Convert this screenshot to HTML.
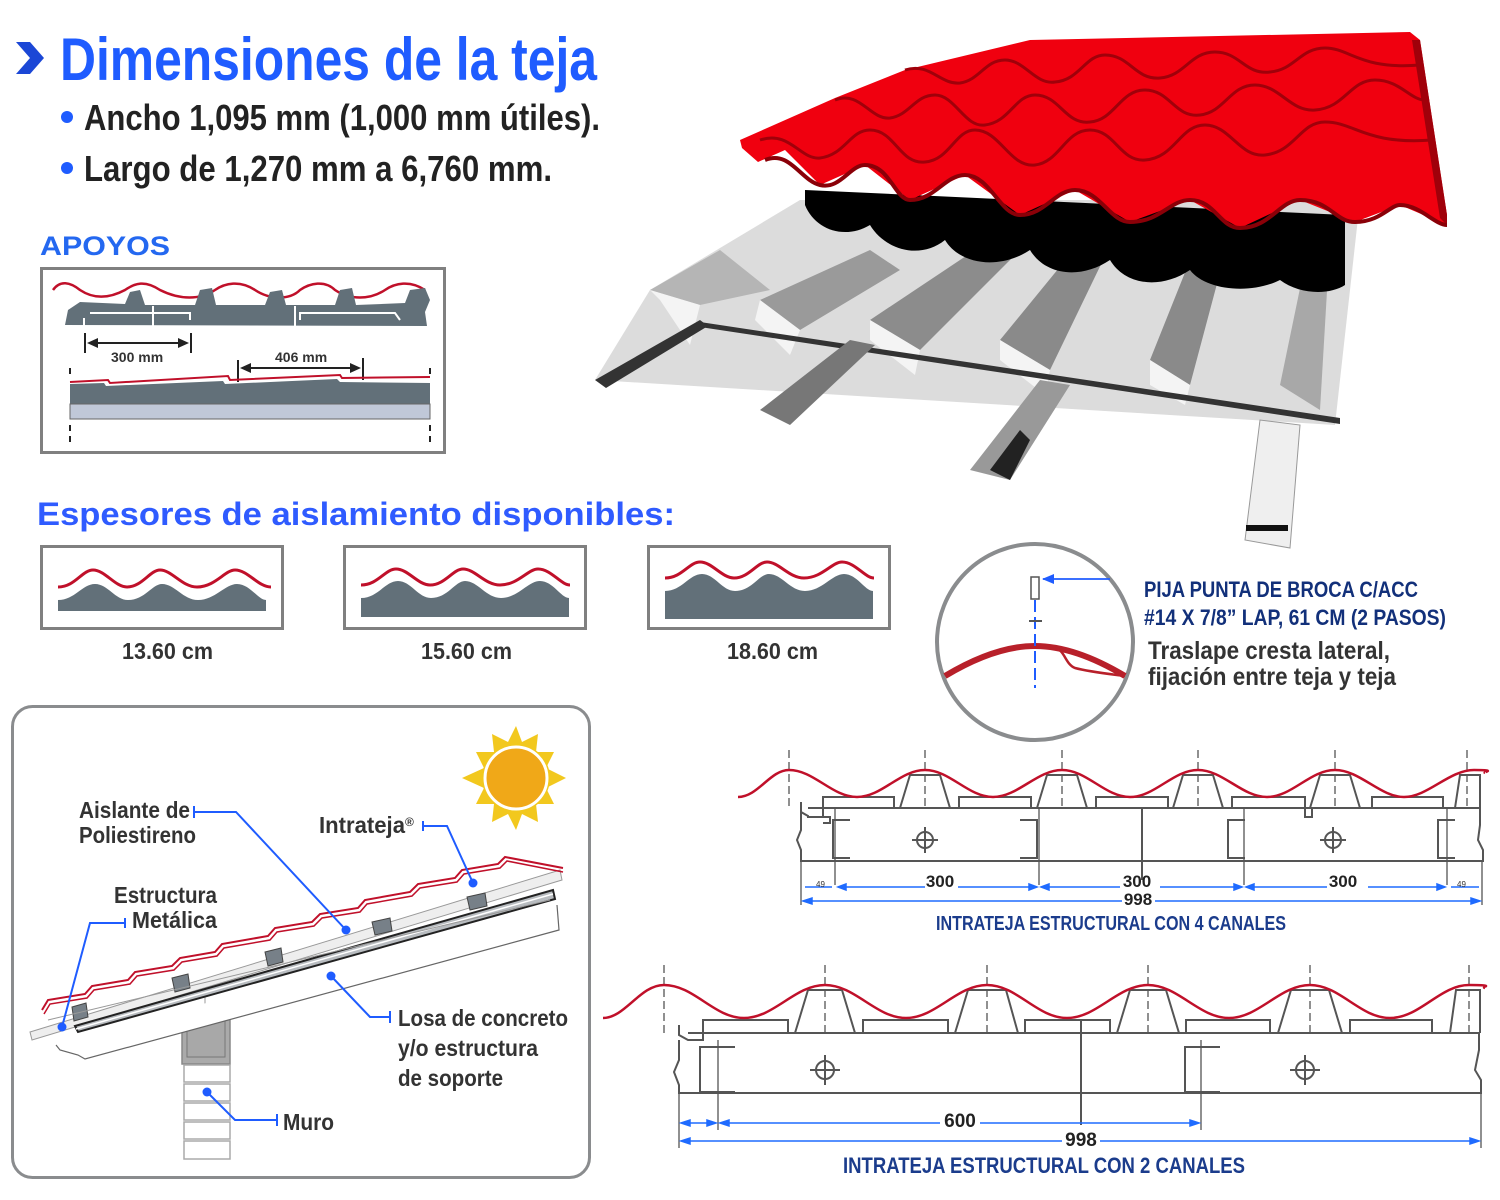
<!DOCTYPE html>
<html><head><meta charset="utf-8"><style>
html,body{margin:0;padding:0;background:#fff;}
svg{display:block;}
.t{font-family:"Liberation Sans Narrow","Liberation Sans",sans-serif;font-weight:bold;}
</style></head><body>
<svg width="1500" height="1200" viewBox="0 0 1500 1200" xmlns="http://www.w3.org/2000/svg">
<!-- Title -->
<polygon points="16,42 30,42 44,58 30,74 16,74 30,58" fill="#1b47d6"/>
<text x="60" y="80" class="t" font-size="60" fill="#1f5cff" textLength="537" lengthAdjust="spacingAndGlyphs">Dimensiones de la teja</text>
<circle cx="67" cy="117" r="6" fill="#1f5cff"/>
<circle cx="67" cy="168" r="6" fill="#1f5cff"/>
<text x="84" y="130" class="t" font-size="36" fill="#222" textLength="516" lengthAdjust="spacingAndGlyphs">Ancho 1,095 mm (1,000 mm útiles).</text>
<text x="84" y="181" class="t" font-size="36" fill="#222" textLength="468" lengthAdjust="spacingAndGlyphs">Largo de 1,270 mm a 6,760 mm.</text>

<!-- APOYOS -->
<text x="40" y="255" font-family="Liberation Sans,sans-serif" font-weight="bold" font-size="27" fill="#2468f0" textLength="130" lengthAdjust="spacingAndGlyphs">APOYOS</text>
<rect x="41.5" y="268.5" width="403" height="184" fill="#fff" stroke="#808080" stroke-width="3"/>
<path d="M53,290 C60,280 70,282 80,290 C95,300 110,298 125,290 C135,283 145,280 160,290 C180,300 200,300 215,290 C225,283 240,280 255,290 C270,300 290,300 300,290 C310,283 325,280 335,290 C350,300 370,300 385,290 C395,283 410,280 425,290" fill="none" stroke="#c0102a" stroke-width="2.5"/>
<path d="M65,325 L68,310 L80,302 L125,304 L130,292 L140,290 L145,305 L195,305 L200,290 L212,288 L216,305 L265,305 L270,292 L282,290 L286,305 L335,305 L340,290 L352,288 L356,305 L405,303 L410,290 L425,288 L430,300 L425,312 L427,326 Z" fill="#627079"/>
<path d="M84,318 L84,326 M90,313 L190,313 L190,320 M300,320 L300,313 L395,313 L400,320" stroke="#fff" stroke-width="2" fill="none"/>
<rect x="152" y="306" width="2" height="20" fill="#fff"/>
<rect x="294" y="306" width="2" height="20" fill="#fff"/>
<line x1="85" y1="333" x2="85" y2="353" stroke="#222" stroke-width="2"/>
<line x1="191" y1="333" x2="191" y2="353" stroke="#222" stroke-width="2"/>
<line x1="90" y1="343" x2="186" y2="343" stroke="#222" stroke-width="2"/>
<polygon points="87,343 98,338 98,348" fill="#222"/><polygon points="189,343 178,338 178,348" fill="#222"/>
<text x="111" y="362" font-family="Liberation Sans,sans-serif" font-weight="bold" font-size="14" fill="#333">300 mm</text>
<line x1="238" y1="360" x2="238" y2="382" stroke="#222" stroke-width="2"/>
<line x1="363" y1="358" x2="363" y2="380" stroke="#222" stroke-width="2"/>
<line x1="243" y1="368" x2="358" y2="368" stroke="#222" stroke-width="2"/>
<polygon points="240,368 251,363 251,373" fill="#222"/><polygon points="361,368 350,363 350,373" fill="#222"/>
<text x="275" y="362" font-family="Liberation Sans,sans-serif" font-weight="bold" font-size="14" fill="#333">406 mm</text>
<path d="M70,382 L108,380 L110,383 L228,376 L230,380 L340,375 L342,378 L430,377" fill="none" stroke="#c0102a" stroke-width="2"/>
<path d="M70,384 L104,383 L106,386 L223,381 L225,384 L337,379 L340,382 L430,383 L430,404 L70,404 Z" fill="#627079"/>
<rect x="70" y="404" width="360" height="15" fill="#c0c8d8" stroke="#666" stroke-width="1"/>
<path d="M70,368 V378 M70,425 V445 M430,368 V378 M430,425 V445" stroke="#222" stroke-width="2" stroke-dasharray="6,5"/>

<!-- Espesores -->
<text x="37" y="525" font-family="Liberation Sans,sans-serif" font-weight="bold" font-size="32" fill="#2f5bff" textLength="638" lengthAdjust="spacingAndGlyphs">Espesores de aislamiento disponibles:</text>
<g>
<rect x="41.5" y="546.5" width="241" height="82" fill="#fff" stroke="#808080" stroke-width="3"/>
<path d="M58,587 C75,587 82,570 93,570 C105,570 115,587 127,587 C142,587 150,570 160,570 C172,570 182,587 197,587 C215,587 225,570 235,570 C248,570 258,587 271,587" fill="none" stroke="#c0102a" stroke-width="3"/>
<path d="M58,600 C75,600 82,584 95,584 C108,584 115,600 128,600 C145,600 152,584 162,584 C175,584 183,600 198,600 C215,600 225,584 237,584 C250,584 258,600 266,600 L266,611 L58,611 Z" fill="#627079"/>
<text x="122" y="659" class="t" font-size="23" fill="#333" textLength="91" lengthAdjust="spacingAndGlyphs">13.60 cm</text>
</g>
<g>
<rect x="344.5" y="546.5" width="241" height="82" fill="#fff" stroke="#808080" stroke-width="3"/>
<path d="M361,585 C378,585 385,569 396,569 C408,569 418,585 430,585 C445,585 453,569 463,569 C475,569 485,585 500,585 C518,585 528,569 538,569 C551,569 561,585 570,585" fill="none" stroke="#c0102a" stroke-width="3"/>
<path d="M361,598 C378,598 385,581 398,581 C411,581 418,598 431,598 C448,598 455,581 465,581 C478,581 486,598 501,598 C518,598 528,581 540,581 C553,581 561,598 569,598 L569,617 L361,617 Z" fill="#627079"/>
<text x="421" y="659" class="t" font-size="23" fill="#333" textLength="91" lengthAdjust="spacingAndGlyphs">15.60 cm</text>
</g>
<g>
<rect x="648.5" y="546.5" width="241" height="82" fill="#fff" stroke="#808080" stroke-width="3"/>
<path d="M665,578 C682,578 689,562 700,562 C712,562 722,578 734,578 C749,578 757,562 767,562 C779,562 789,578 804,578 C822,578 832,562 842,562 C855,562 865,578 874,578" fill="none" stroke="#c0102a" stroke-width="3"/>
<path d="M665,591 C682,591 689,574 702,574 C715,574 722,591 735,591 C752,591 759,574 769,574 C782,574 790,591 805,591 C822,591 832,574 844,574 C857,574 865,591 873,591 L873,619 L665,619 Z" fill="#627079"/>
<text x="727" y="659" class="t" font-size="23" fill="#333" textLength="91" lengthAdjust="spacingAndGlyphs">18.60 cm</text>
</g>

<!-- Circle detail -->
<circle cx="1035" cy="642" r="98" fill="#fff" stroke="#8a8c8e" stroke-width="4"/>
<path d="M945,676 C980,655 1010,646 1035,646 C1060,646 1090,655 1125,676" fill="none" stroke="#b8202a" stroke-width="6"/>
<path d="M1055,648 C1065,650 1065,664 1075,668 C1090,672 1110,674 1125,676" fill="none" stroke="#b8202a" stroke-width="2.5"/>
<line x1="1035" y1="600" x2="1035" y2="688" stroke="#1f5cff" stroke-width="2" stroke-dasharray="12,5"/>
<rect x="1031" y="577" width="8" height="22" fill="#fff" stroke="#555" stroke-width="1.5"/>
<line x1="1029" y1="621" x2="1042" y2="621" stroke="#555" stroke-width="2"/>
<line x1="1043" y1="579" x2="1110" y2="579" stroke="#1f5cff" stroke-width="1.8"/>
<polygon points="1042,579 1054,574 1054,584" fill="#1f5cff"/>
<text x="1144" y="597" class="t" font-size="22" fill="#12307a" textLength="274" lengthAdjust="spacingAndGlyphs">PIJA PUNTA DE BROCA C/ACC</text>
<text x="1144" y="625" class="t" font-size="22" fill="#12307a" textLength="302" lengthAdjust="spacingAndGlyphs">#14 X 7/8” LAP, 61 CM (2 PASOS)</text>
<text x="1148" y="659" class="t" font-size="25" fill="#333" textLength="242" lengthAdjust="spacingAndGlyphs">Traslape cresta lateral,</text>
<text x="1148" y="685" class="t" font-size="25" fill="#333" textLength="248" lengthAdjust="spacingAndGlyphs">fijación entre teja y teja</text>

<!-- 3D roof -->
<g>
<polygon points="800,200 650,290 595,380 1335,425 1360,200" fill="#dcdcdc"/>
<polygon points="650,290 720,250 770,290 700,305" fill="#b5b5b5"/>
<polygon points="760,300 870,250 900,270 800,330" fill="#9a9a9a"/>
<polygon points="870,320 990,240 1020,250 920,350" fill="#8c8c8c"/>
<polygon points="1000,340 1090,230 1120,225 1050,370" fill="#8a8a8a"/>
<polygon points="1150,360 1200,235 1230,235 1190,385" fill="#8a8a8a"/>
<polygon points="1280,385 1310,240 1330,240 1320,410" fill="#a8a8a8"/>
<polygon points="650,290 700,305 690,345 660,300" fill="#f4f4f4"/>
<polygon points="760,300 800,330 790,355 755,320" fill="#f4f4f4"/>
<polygon points="870,320 920,350 915,375 870,340" fill="#f4f4f4"/>
<polygon points="1000,340 1050,370 1045,395 1000,360" fill="#f4f4f4"/>
<polygon points="1150,360 1190,385 1185,405 1150,385" fill="#f4f4f4"/>
<polygon points="700,322 1340,418 1340,424 700,327" fill="#333"/>
<polygon points="595,380 700,320 708,326 606,388" fill="#333"/>
<polygon points="760,410 850,340 875,345 790,425" fill="#777"/>
<polygon points="970,470 1040,380 1070,385 1010,480" fill="#999"/>
<polygon points="990,470 1010,480 1030,440 1020,430" fill="#222"/>
<polygon points="1245,540 1260,420 1300,425 1290,548" fill="#efefef" stroke="#999" stroke-width="1"/>
<rect x="1246" y="525" width="42" height="6" fill="#111"/>
<path d="M805,205 C815,230 845,240 870,225 C885,250 920,260 945,240 C960,265 1000,270 1030,250 C1045,275 1080,280 1110,260 C1125,285 1160,290 1190,270 C1205,290 1250,295 1280,280 C1300,295 1330,295 1345,285 L1345,215 L805,190 Z" fill="#000"/>
<polygon points="740,140 835,98 905,70 1030,40 1410,32 1420,40 1447,215 1447,225 1400,205 1355,222 1300,200 1240,228 1190,200 1130,222 1075,190 1020,215 965,175 910,200 865,165 820,185 785,150 758,162 742,148" fill="#f0000f"/>
<path d="M1420,40 L1447,215 L1447,225 L1440,218 L1412,40 Z" fill="#a0000a"/>
<path d="M765,160 C790,150 800,180 820,185 C840,190 850,165 865,165 C890,165 895,200 910,200 C935,200 945,175 965,175 C990,175 1000,215 1020,215 C1045,215 1055,190 1075,190 C1100,190 1110,222 1130,222 C1160,222 1170,200 1190,200 C1215,200 1220,228 1240,228 C1270,228 1280,200 1300,200 C1330,200 1335,222 1355,222 C1380,222 1390,205 1400,205 C1420,205 1435,225 1447,225" fill="none" stroke="#8a0008" stroke-width="4"/>
<path d="M835,100 C860,90 870,120 890,118 C910,115 915,95 935,95 C955,95 965,128 985,125 C1010,122 1015,95 1035,95 C1060,95 1065,125 1090,122 C1115,120 1120,90 1145,90 C1170,90 1175,118 1200,115 C1225,112 1230,85 1255,85 C1280,85 1290,112 1315,110 C1345,108 1350,80 1375,80 C1400,80 1410,100 1425,100" fill="none" stroke="#a0000a" stroke-width="3"/>
<path d="M905,70 C930,62 940,85 960,83 C980,80 985,60 1005,60 C1025,60 1035,85 1055,82 C1080,80 1085,55 1105,55 C1130,55 1135,80 1160,78 C1185,76 1190,52 1215,52 C1240,52 1245,75 1270,72 C1295,70 1300,48 1325,48 C1350,48 1360,70 1420,65" fill="none" stroke="#a0000a" stroke-width="3"/>
<path d="M760,140 C790,130 800,160 820,158 C845,155 850,130 870,130 C895,130 900,165 925,162 C950,160 955,130 975,130 C1000,130 1010,168 1035,165 C1060,162 1065,130 1090,130 C1115,130 1120,162 1145,160 C1175,158 1180,125 1205,125 C1230,125 1240,158 1265,155 C1295,152 1300,122 1325,122 C1355,122 1365,145 1432,140" fill="none" stroke="#a0000a" stroke-width="3"/>
</g>

<!-- 4 canales -->
<g fill="none" stroke="#555" stroke-width="2">
<path d="M789,750 V808 M925,750 V808 M1062,750 V808 M1198,750 V808 M1335,750 V808 M1467,750 V808" stroke-dasharray="8,4" stroke-width="1.3"/>
<path d="M801,802 V812 L808,816 L808,817 L823,817 L823,797 L894,797 L894,808 L900,808 L910,775 L940,775 L950,808 L959,808 L959,797 L1031,797 L1031,808 L1037,808 L1047,775 L1077,775 L1087,808 L1096,808 L1096,797 L1168,797 L1168,808 L1173,808 L1183,775 L1213,775 L1223,808 L1232,808 L1232,797 L1305,797 L1305,808 L1310,808 L1320,775 L1350,775 L1360,808 L1372,808 L1372,797 L1443,797 L1443,808 L1455,808 L1460,775 L1480,775 L1480,808"/>
<path d="M808,808 H1480"/>
<path d="M801,812 V830 L797,840 L801,850 V861 H1483 V850 L1478,840 L1480,825 V808"/>
<path d="M823,817 H830 V823 H823 M1305,808 V817 H1312 V808"/>
<path d="M850,820 H833 V858 H850 M1020,820 H1037 V858 H1020 M1245,820 H1228 V858 H1245 M1455,820 H1438 V858 H1455"/>
<circle cx="925" cy="840" r="8"/><path d="M912,840 H938 M925,827 V853"/>
<circle cx="1333" cy="840" r="8"/><path d="M1320,840 H1346 M1333,827 V853"/>
<path d="M1142,808 V880"/>
<path d="M801,861 V905 M835,808 V885 M1039,808 V885 M1244,808 V885 M1447,808 V885 M1482,861 V905" stroke-width="1.3"/>
</g>
<path d="M738,797 C758,797 770,770 789,770 C814,770 832,797 857,797 S900,770 925,770 S968,797 993,797 S1037,770 1062,770 S1105,797 1130,797 S1173,770 1198,770 S1242,797 1267,797 S1310,770 1335,770 S1380,797 1404,797 S1449,770 1474,770 S1482,772 1485,773" fill="none" stroke="#c0102a" stroke-width="2.5"/>
<g stroke="#1f6bff" stroke-width="1.5" fill="#1f6bff">
<line x1="805" y1="887" x2="832" y2="887"/>
<line x1="840" y1="887" x2="925" y2="887"/><line x1="958" y1="887" x2="1035" y2="887"/>
<line x1="1043" y1="887" x2="1120" y2="887"/><line x1="1160" y1="887" x2="1240" y2="887"/>
<line x1="1248" y1="887" x2="1327" y2="887"/><line x1="1368" y1="887" x2="1443" y2="887"/>
<line x1="1451" y1="887" x2="1479" y2="887"/>
<line x1="805" y1="901" x2="1122" y2="901"/><line x1="1155" y1="901" x2="1479" y2="901"/>
<polygon points="838,887 846,884 846,890"/><polygon points="1037,887 1029,884 1029,890" /><polygon points="1041,887 1049,884 1049,890"/><polygon points="1242,887 1234,884 1234,890"/><polygon points="1246,887 1254,884 1254,890"/><polygon points="1445,887 1437,884 1437,890"/>
<polygon points="803,901 812,898 812,904"/><polygon points="1480,901 1471,898 1471,904"/>
</g>
<text x="816" y="887" font-family="Liberation Sans,sans-serif" font-size="8" fill="#333">49</text>
<text x="1457" y="887" font-family="Liberation Sans,sans-serif" font-size="8" fill="#333">49</text>
<text x="940" y="887" text-anchor="middle" class="t" font-size="17" fill="#222">300</text>
<text x="1137" y="887" text-anchor="middle" class="t" font-size="17" fill="#222">300</text>
<text x="1343" y="887" text-anchor="middle" class="t" font-size="17" fill="#222">300</text>
<text x="1138" y="905" text-anchor="middle" class="t" font-size="17" fill="#222">998</text>
<text x="1111" y="930" text-anchor="middle" class="t" font-size="20" fill="#1b3c8c" textLength="350" lengthAdjust="spacingAndGlyphs">INTRATEJA ESTRUCTURAL CON 4 CANALES</text>

<!-- 2 canales -->
<g fill="none" stroke="#555" stroke-width="2">
<path d="M664,965 V1035 M825,965 V1035 M987,965 V1035 M1148,965 V1035 M1310,965 V1035 M1469,965 V1035" stroke-dasharray="8,4" stroke-width="1.3"/>
<path d="M679,1025 V1035 L688,1040 L703,1040 L703,1020 L788,1020 L788,1033 L795,1033 L808,990 L842,990 L855,1033 L863,1033 L863,1020 L948,1020 L948,1033 L955,1033 L968,990 L1006,990 L1018,1033 L1025,1033 L1025,1020 L1110,1020 L1110,1033 L1117,1033 L1130,990 L1166,990 L1179,1033 L1186,1033 L1186,1020 L1270,1020 L1270,1033 L1278,1033 L1291,990 L1329,990 L1342,1033 L1350,1033 L1350,1020 L1432,1020 L1432,1033 L1450,1033 L1456,990 L1480,990 L1480,1033"/>
<path d="M688,1033 H1480"/>
<path d="M679,1040 V1060 L674,1072 L679,1085 V1093 H1481 V1080 L1475,1070 L1479,1050 V1033"/>
<path d="M735,1047 H700 V1092 H735 M1220,1047 H1185 V1092 H1220"/>
<circle cx="825" cy="1070" r="9"/><path d="M810,1070 H840 M825,1055 V1085"/>
<circle cx="1305" cy="1070" r="9"/><path d="M1290,1070 H1320 M1305,1055 V1085"/>
<path d="M1081,1020 V1125"/>
<path d="M679,1093 V1148 M718,1040 V1130 M1201,1040 V1130 M1481,1093 V1148" stroke-width="1.3"/>
</g>
<path d="M603,1018 C625,1018 640,985 664,985 C694,985 714,1018 744,1018 S795,985 825,985 S876,1018 906,1018 S957,985 987,985 S1037,1018 1067,1018 S1118,985 1148,985 S1199,1018 1229,1018 S1280,985 1310,985 S1360,1018 1390,1018 S1440,985 1469,985 S1480,987 1485,988" fill="none" stroke="#c0102a" stroke-width="2.5"/>
<g stroke="#1f6bff" stroke-width="1.5" fill="#1f6bff">
<line x1="683" y1="1123" x2="714" y2="1123"/>
<line x1="722" y1="1123" x2="940" y2="1123"/><line x1="980" y1="1123" x2="1197" y2="1123"/>
<line x1="683" y1="1141" x2="1062" y2="1141"/><line x1="1100" y1="1141" x2="1478" y2="1141"/>
<polygon points="681,1123 690,1120 690,1126"/><polygon points="716,1123 707,1120 707,1126"/>
<polygon points="720,1123 729,1120 729,1126"/><polygon points="1199,1123 1190,1120 1190,1126"/>
<polygon points="681,1141 690,1138 690,1144"/><polygon points="1479,1141 1470,1138 1470,1144"/>
</g>
<text x="960" y="1127" text-anchor="middle" class="t" font-size="19" fill="#222">600</text>
<text x="1081" y="1146" text-anchor="middle" class="t" font-size="19" fill="#222">998</text>
<text x="1044" y="1173" text-anchor="middle" class="t" font-size="22" fill="#1b3c8c" textLength="402" lengthAdjust="spacingAndGlyphs">INTRATEJA ESTRUCTURAL CON 2 CANALES</text>

<!-- Bottom left box -->
<rect x="12.5" y="706.5" width="577" height="471" rx="20" fill="#fff" stroke="#8a8c8e" stroke-width="3"/>
<g>
<path d="M516,726 L522,742 L538,734 L536,752 L554,752 L546,768 L566,778 L546,788 L554,804 L536,804 L538,822 L522,814 L516,830 L508,814 L492,822 L494,804 L476,804 L484,788 L462,778 L484,768 L476,752 L494,752 L492,734 L508,742 Z" fill="#f2c81e"/>
<circle cx="516" cy="778" r="34" fill="#f2c81e"/>
<circle cx="516" cy="778" r="31" fill="#f0a818" stroke="#fff" stroke-width="3"/>
</g>
<!-- wall -->
<line x1="205" y1="995" x2="205" y2="1015" stroke="#999" stroke-width="1"/>
<rect x="182" y="1016" width="48" height="48" fill="#aaa" stroke="#888" stroke-width="1.5"/>
<rect x="187" y="1021" width="38" height="36" fill="#a8a8a8" stroke="#777" stroke-width="1"/>
<g fill="#fff" stroke="#aaa" stroke-width="1.5">
<rect x="184" y="1065" width="46" height="17"/><rect x="184" y="1084" width="46" height="17"/><rect x="184" y="1103" width="46" height="17"/><rect x="184" y="1122" width="46" height="17"/><rect x="184" y="1141" width="46" height="18"/>
</g>
<!-- slab -->
<path d="M30,1032 L560,870 L562,880 L32,1040 Z" fill="#eee" stroke="#999" stroke-width="1"/>
<path d="M56,1045 L60,1050 L78,1055 L85,1059 L559,930 L557,905" fill="#fff" stroke="#666" stroke-width="1.2"/>
<path d="M75,1026 L553,890 L555,899 L78,1032 Z" fill="#b8bcc0" stroke="#222" stroke-width="2"/>
<path d="M76,1029 L553,894" stroke="#fff" stroke-width="1.5"/>
<g fill="#778088" stroke="#444" stroke-width="1">
<polygon points="72,1007 86,1003 88,1017 74,1021"/><polygon points="172,978 188,974 190,988 175,992"/><polygon points="265,952 281,948 283,962 268,966"/><polygon points="372,922 390,918 392,931 375,935"/><polygon points="467,897 485,893 487,906 470,910"/>
</g>
<path d="M42,1010 L48,1000 L85,994 L92,986 L128,980 L135,972 L172,966 L180,958 L215,952 L222,944 L268,936 L275,928 L312,922 L320,914 L358,908 L365,900 L410,892 L418,884 L455,878 L462,870 L498,864 L505,857 L563,868" fill="none" stroke="#c0102a" stroke-width="2"/>
<path d="M44,1014 L50,1004 L87,998 L94,990 L130,984 L137,976 L174,970 L182,962 L217,956 L224,948 L270,940 L277,932 L314,926 L322,918 L360,912 L367,904 L412,896 L420,888 L457,882 L464,874 L500,868 L507,861 L563,872" fill="none" stroke="#c0102a" stroke-width="1.5"/>
<path d="M48,1020 L550,900" stroke="#999" stroke-width="1" fill="none"/>
<!-- callouts -->
<g stroke="#1f5cff" stroke-width="2" fill="none">
<path d="M194,806 V818 M194,812 H236 L346,930"/>
<path d="M423,821 V831 M423,826 H447 L473,883"/>
<path d="M125,918 V928 M125,923 H90 L62,1027"/>
<path d="M331,976 L370,1017 H390 M390,1011 V1023"/>
<path d="M207,1092 L235,1120 H277 M277,1114 V1126"/>
</g>
<g fill="#1f5cff">
<circle cx="346" cy="930" r="4.5"/><circle cx="473" cy="883" r="4.5"/><circle cx="62" cy="1027" r="4.5"/><circle cx="331" cy="976" r="4.5"/><circle cx="207" cy="1092" r="4.5"/>
</g>
<g class="t" font-size="23" fill="#333" lengthAdjust="spacingAndGlyphs">
<text x="79" y="818" textLength="111" lengthAdjust="spacingAndGlyphs">Aislante de</text>
<text x="79" y="843" textLength="117" lengthAdjust="spacingAndGlyphs">Poliestireno</text>
<text x="319" y="833" textLength="86" lengthAdjust="spacingAndGlyphs">Intrateja</text>
<text x="405" y="826" font-size="12">®</text>
<text x="114" y="903" textLength="103" lengthAdjust="spacingAndGlyphs">Estructura</text>
<text x="132" y="928" textLength="85" lengthAdjust="spacingAndGlyphs">Metálica</text>
<text x="398" y="1026" textLength="170" lengthAdjust="spacingAndGlyphs">Losa de concreto</text>
<text x="398" y="1056" textLength="140" lengthAdjust="spacingAndGlyphs">y/o estructura</text>
<text x="398" y="1086" textLength="105" lengthAdjust="spacingAndGlyphs">de soporte</text>
<text x="283" y="1130" textLength="51" lengthAdjust="spacingAndGlyphs">Muro</text>
</g>
</svg>
</body></html>
